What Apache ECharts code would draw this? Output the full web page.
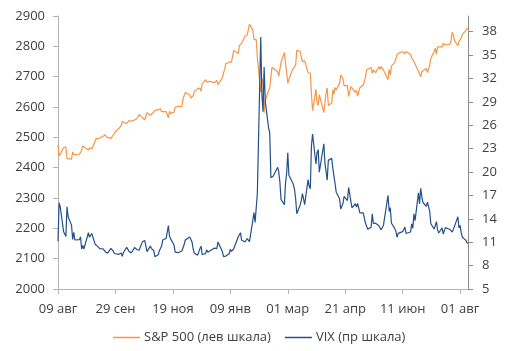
<!DOCTYPE html>
<html>
<head>
<meta charset="utf-8">
<script src="https://cdn.jsdelivr.net/npm/echarts@6/dist/echarts.min.js"></script>
<style>html,body{margin:0;padding:0;background:#fff}#c{width:506px;height:351px}</style>
</head>
<body>
<div id="c"></div>
<script>
const dates = [
'2017-08-09','2017-08-10','2017-08-11','2017-08-14','2017-08-15','2017-08-16','2017-08-17','2017-08-18','2017-08-21','2017-08-22','2017-08-23','2017-08-24','2017-08-25','2017-08-28','2017-08-29','2017-08-30','2017-08-31',
'2017-09-01','2017-09-05','2017-09-06','2017-09-07','2017-09-08','2017-09-11','2017-09-12','2017-09-13','2017-09-14','2017-09-15','2017-09-18','2017-09-19','2017-09-20','2017-09-21','2017-09-22','2017-09-25','2017-09-26','2017-09-27','2017-09-28','2017-09-29',
'2017-10-02','2017-10-03','2017-10-04','2017-10-05','2017-10-06','2017-10-09','2017-10-10','2017-10-11','2017-10-12','2017-10-13','2017-10-16','2017-10-17','2017-10-18','2017-10-19','2017-10-20','2017-10-23','2017-10-24','2017-10-25','2017-10-26','2017-10-27','2017-10-30','2017-10-31',
'2017-11-01','2017-11-02','2017-11-03','2017-11-06','2017-11-07','2017-11-08','2017-11-09','2017-11-10','2017-11-13','2017-11-14','2017-11-15','2017-11-16','2017-11-17','2017-11-20','2017-11-21','2017-11-22','2017-11-24','2017-11-27','2017-11-28','2017-11-29','2017-11-30',
'2017-12-01','2017-12-04','2017-12-05','2017-12-06','2017-12-07','2017-12-08','2017-12-11','2017-12-12','2017-12-13','2017-12-14','2017-12-15','2017-12-18','2017-12-19','2017-12-20','2017-12-21','2017-12-22','2017-12-26','2017-12-27','2017-12-28','2017-12-29',
'2018-01-02','2018-01-03','2018-01-04','2018-01-05','2018-01-08','2018-01-09','2018-01-10','2018-01-11','2018-01-12','2018-01-16','2018-01-17','2018-01-18','2018-01-19','2018-01-22','2018-01-23','2018-01-24','2018-01-25','2018-01-26','2018-01-29','2018-01-30','2018-01-31',
'2018-02-01','2018-02-02','2018-02-05','2018-02-06','2018-02-07','2018-02-08','2018-02-09','2018-02-12','2018-02-13','2018-02-14','2018-02-15','2018-02-16','2018-02-20','2018-02-21','2018-02-22','2018-02-23','2018-02-26','2018-02-27','2018-02-28',
'2018-03-01','2018-03-02','2018-03-05','2018-03-06','2018-03-07','2018-03-08','2018-03-09','2018-03-12','2018-03-13','2018-03-14','2018-03-15','2018-03-16','2018-03-19','2018-03-20','2018-03-21','2018-03-22','2018-03-23','2018-03-26','2018-03-27','2018-03-28','2018-03-29',
'2018-04-02','2018-04-03','2018-04-04','2018-04-05','2018-04-06','2018-04-09','2018-04-10','2018-04-11','2018-04-12','2018-04-13','2018-04-16','2018-04-17','2018-04-18','2018-04-19','2018-04-20','2018-04-23','2018-04-24','2018-04-25','2018-04-26','2018-04-27','2018-04-30',
'2018-05-01','2018-05-02','2018-05-03','2018-05-04','2018-05-07','2018-05-08','2018-05-09','2018-05-10','2018-05-11','2018-05-14','2018-05-15','2018-05-16','2018-05-17','2018-05-18','2018-05-21','2018-05-22','2018-05-23','2018-05-24','2018-05-25','2018-05-29','2018-05-30','2018-05-31',
'2018-06-01','2018-06-04','2018-06-05','2018-06-06','2018-06-07','2018-06-08','2018-06-11','2018-06-12','2018-06-13','2018-06-14','2018-06-15','2018-06-18','2018-06-19','2018-06-20','2018-06-21','2018-06-22','2018-06-25','2018-06-26','2018-06-27','2018-06-28','2018-06-29',
'2018-07-02','2018-07-03','2018-07-05','2018-07-06','2018-07-09','2018-07-10','2018-07-11','2018-07-12','2018-07-13','2018-07-16','2018-07-17','2018-07-18','2018-07-19','2018-07-20','2018-07-23','2018-07-24','2018-07-25','2018-07-26','2018-07-27','2018-07-30','2018-07-31',
'2018-08-01','2018-08-02','2018-08-03','2018-08-06','2018-08-07','2018-08-08'
];

const spx = [
2474.02,2438.21,2441.32,2465.84,2464.61,2468.11,2430.01,2425.55,2428.37,2452.51,2444.04,2438.97,2443.05,2444.24,2446.30,2457.59,2471.65,
2476.55,2457.85,2465.54,2465.10,2461.43,2488.11,2496.48,2498.37,2495.62,2500.23,2503.87,2506.65,2508.24,2500.60,2502.22,2496.66,2496.84,2507.04,2510.06,2519.36,
2529.12,2534.58,2537.74,2552.07,2549.33,2544.73,2550.64,2555.24,2550.93,2553.17,2557.64,2559.36,2561.26,2562.10,2575.21,2564.98,2569.13,2557.15,2560.40,2581.07,2572.83,2575.26,
2579.36,2579.85,2587.84,2591.13,2590.64,2594.38,2584.62,2582.30,2584.84,2578.87,2564.62,2585.64,2578.85,2582.14,2599.03,2597.08,2602.42,2601.42,2627.04,2626.07,2647.58,
2642.22,2639.44,2629.57,2629.27,2636.98,2651.50,2659.99,2664.11,2662.85,2652.01,2675.81,2690.16,2681.47,2679.25,2684.57,2683.34,2680.50,2682.62,2687.54,2673.61,
2695.81,2713.06,2723.99,2743.15,2747.71,2751.29,2748.23,2767.56,2786.24,2776.42,2802.56,2798.03,2810.30,2832.97,2839.13,2837.54,2839.25,2872.87,2853.53,2822.43,2823.81,
2821.98,2762.13,2648.94,2695.14,2681.66,2581.00,2619.55,2656.00,2662.94,2698.63,2731.20,2732.22,2716.26,2701.33,2703.96,2747.30,2779.60,2744.28,2713.83,
2677.67,2691.25,2720.94,2728.12,2726.80,2738.97,2786.57,2783.02,2765.31,2749.48,2747.33,2752.01,2712.92,2716.94,2711.93,2643.69,2588.26,2658.55,2612.62,2605.00,2640.87,
2581.88,2614.45,2644.69,2662.84,2604.47,2613.16,2656.87,2642.19,2663.99,2656.30,2677.84,2706.39,2708.64,2693.13,2670.14,2670.29,2634.56,2639.40,2666.94,2669.91,2648.05,
2654.80,2635.67,2629.73,2663.42,2672.63,2671.92,2697.79,2723.07,2727.72,2730.13,2711.45,2722.46,2720.13,2712.97,2733.01,2724.44,2733.29,2727.76,2721.33,2689.86,2724.01,2705.27,
2734.62,2746.87,2748.80,2772.35,2770.37,2779.03,2782.00,2786.85,2775.63,2782.49,2779.66,2773.75,2762.59,2767.32,2749.76,2754.88,2717.07,2723.06,2699.63,2716.31,2718.37,
2726.71,2713.22,2736.61,2759.82,2784.17,2793.84,2774.02,2798.29,2801.31,2798.43,2809.55,2815.62,2804.49,2801.83,2806.98,2820.40,2846.07,2837.44,2818.82,2802.60,2816.29,
2813.36,2827.22,2840.35,2850.40,2858.45,2857.70
];

const vix = [
11.11,16.04,15.51,12.33,12.04,11.74,15.55,14.26,13.19,11.35,12.25,11.28,11.28,11.32,11.70,10.13,10.59,
10.13,12.23,11.63,11.55,12.12,10.73,10.58,10.50,10.44,10.17,10.15,10.18,9.78,9.67,9.59,10.21,10.17,9.87,9.55,9.51,
9.45,9.51,9.63,9.19,9.65,10.33,10.08,9.85,9.91,9.61,10.31,10.31,10.07,10.05,9.97,11.07,11.16,11.23,11.30,9.80,10.50,10.18,
10.20,9.93,9.14,9.40,9.89,9.78,10.50,11.29,11.50,11.59,13.13,11.76,11.43,10.65,9.73,9.88,9.67,9.87,10.03,10.70,11.28,
11.43,11.68,11.33,11.02,10.16,9.58,9.34,9.35,10.18,10.49,9.42,9.53,10.03,9.72,9.62,9.90,10.25,10.47,10.18,11.04,
9.77,9.15,9.22,9.22,9.52,10.08,9.82,9.88,10.16,11.66,11.91,12.22,11.27,11.03,11.10,11.47,11.58,11.08,13.84,14.79,13.54,
13.47,17.31,37.32,29.98,27.73,33.46,29.06,25.61,24.97,19.26,19.13,19.46,20.60,20.02,18.72,16.49,15.80,18.59,19.85,
22.47,19.59,18.73,18.36,17.76,16.54,14.64,15.78,16.35,17.23,16.59,15.80,19.02,18.20,17.86,23.34,24.87,21.03,22.50,22.87,19.97,
23.62,21.10,20.06,18.94,21.49,21.77,20.47,20.24,18.49,17.41,16.56,15.25,15.60,15.96,16.88,16.34,18.02,17.84,16.24,15.41,15.93,
15.49,15.97,15.90,14.77,14.75,14.71,13.42,13.23,12.65,12.93,14.63,13.42,13.43,13.42,13.08,13.22,12.58,12.53,13.22,17.02,14.94,15.43,
13.46,12.74,12.40,11.64,12.13,12.18,12.35,12.34,12.94,12.12,11.98,12.31,13.35,12.79,14.64,13.77,17.33,15.92,17.91,16.85,16.09,
15.60,16.14,14.97,13.37,12.69,12.64,13.63,12.58,12.18,12.83,12.06,12.10,12.87,12.86,12.62,12.41,12.29,12.14,13.03,14.26,12.83,
13.15,12.19,11.64,11.27,10.93,10.85
];

const xStart = '2017-08-09';
const xEnd = '2018-08-08';
const xTickDates = ['2017-08-09','2017-09-29','2017-11-19','2018-01-09','2018-03-01','2018-04-21','2018-06-11','2018-08-01'];
const xTickLabels = ['09 авг','29 сен','19 ноя','09 янв','01 мар','21 апр','11 июн','01 авг'];
const leftTicks = [2000,2100,2200,2300,2400,2500,2600,2700,2800,2900];
const rightTicks = [5,8,11,14,17,20,23,26,29,32,35,38];
const seriesNames = ['S&P 500 (лев шкала)','VIX (пр шкала)'];

const DAY = 86400000;
const dayOf = d => Math.round((Date.parse(d + 'T00:00:00Z') - Date.parse(xStart + 'T00:00:00Z')) / DAY);
const tickPos = xTickDates.map(dayOf);
const labelMap = {};
tickPos.forEach((p, i) => { labelMap[p] = xTickLabels[i]; });

const spxData = dates.map((d, i) => [dayOf(d), spx[i]]);
const vixData = dates.map((d, i) => [dayOf(d), vix[i]]);

const FONT = 'Open Sans';
const TXT = '#404040';
const AXL = '#b4b4b4';
const AXR = '#8c8c8c';

const chart = echarts.init(document.getElementById('c'), null, {renderer: 'canvas'});
chart.setOption({
  animation: false,
  backgroundColor: '#ffffff',
  textStyle: {fontFamily: FONT},
  grid: {left: 58, right: 38, top: 16, bottom: 62, containLabel: false},
  legend: {
    left: 108, top: 326,
    icon: 'rect', itemWidth: 27, itemHeight: 1.5, itemGap: 14,
    textStyle: {fontFamily: FONT, fontSize: 13, color: TXT, padding: [0,0,0,-1]},
    data: seriesNames
  },
  xAxis: {
    type: 'value',
    min: 0, max: dayOf(xEnd),
    splitLine: {show: false},
    axisLine: {show: true, lineStyle: {color: AXL, width: 1}},
    axisTick: {show: true, length: 5, lineStyle: {color: AXL}, customValues: tickPos},
    axisLabel: {
      customValues: tickPos,
      formatter: v => labelMap[v] || '',
      fontFamily: FONT, fontSize: 13, color: TXT, margin: 14
    }
  },
  yAxis: [
    {
      type: 'value', min: 2000, max: 2900, interval: 100, position: 'left',
      splitLine: {show: false},
      axisLine: {show: true, lineStyle: {color: AXL}},
      axisTick: {show: true, length: 5, lineStyle: {color: AXL}, customValues: leftTicks},
      axisLabel: {customValues: leftTicks, formatter: v => String(v), fontFamily: FONT, fontSize: 13, color: TXT, margin: 13}
    },
    {
      type: 'value', min: 5, max: 40, position: 'right',
      splitLine: {show: false},
      axisLine: {show: true, lineStyle: {color: AXR}},
      axisTick: {show: true, length: 5, lineStyle: {color: AXR}, customValues: rightTicks},
      axisLabel: {customValues: rightTicks, formatter: v => String(v), fontFamily: FONT, fontSize: 13, color: TXT, margin: 14}
    }
  ],
  series: [
    {
      name: seriesNames[0], type: 'line', yAxisIndex: 0, data: spxData,
      showSymbol: false, symbol: 'none',
      lineStyle: {color: '#F79646', width: 1.2},
      itemStyle: {color: '#F79646'}
    },
    {
      name: seriesNames[1], type: 'line', yAxisIndex: 1, data: vixData,
      showSymbol: false, symbol: 'none',
      lineStyle: {color: '#24508A', width: 1.2},
      itemStyle: {color: '#24508A'}
    }
  ]
});
</script>
</body>
</html>
